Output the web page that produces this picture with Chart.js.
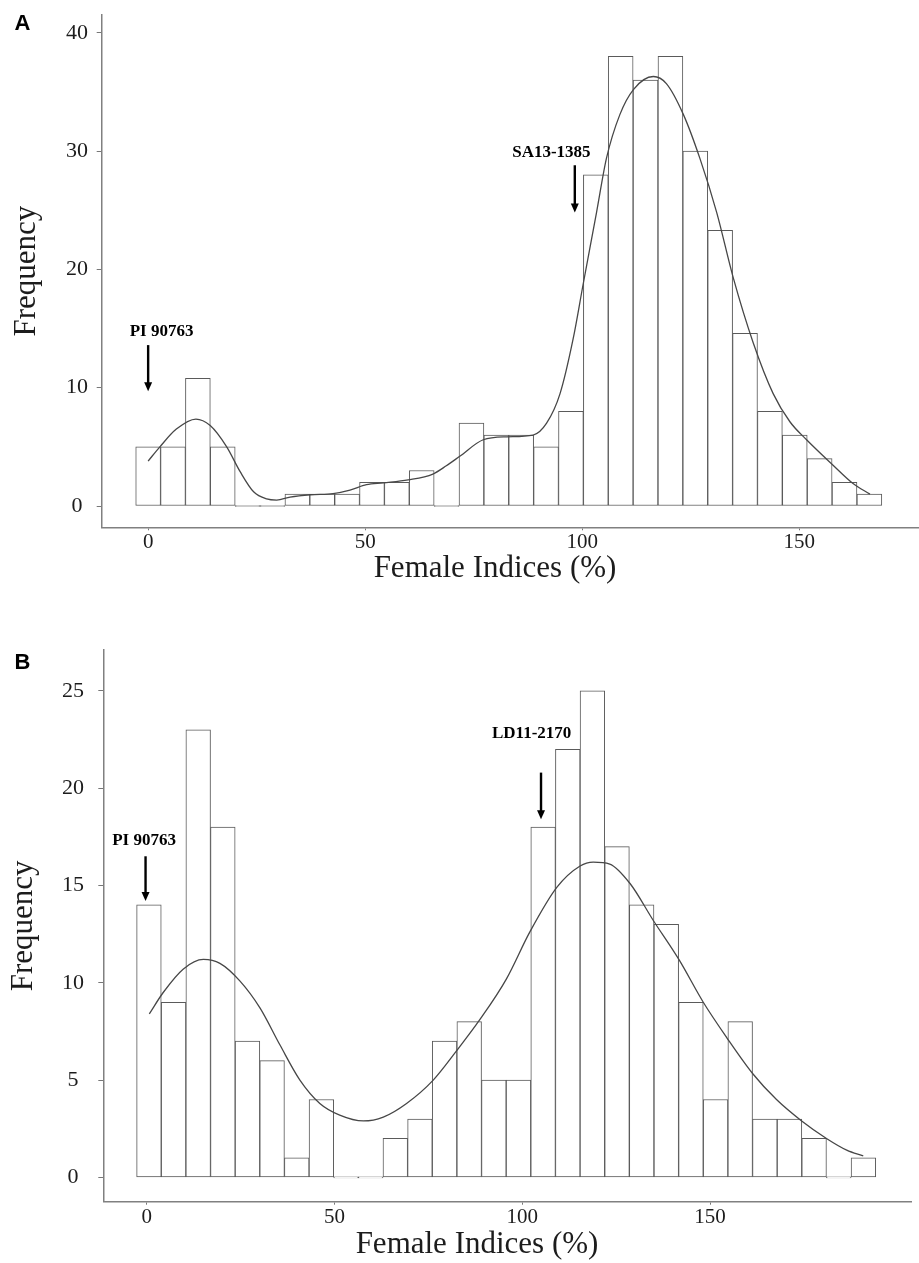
<!DOCTYPE html>
<html>
<head>
<meta charset="utf-8">
<script src="https://cdn.jsdelivr.net/npm/chart.js@4.4.0/dist/chart.umd.min.js"></script>
<style>
  html, body { margin: 0; padding: 0; background: #fff; overflow: hidden; }
  canvas { position: absolute; left: 0; }
  #chartA { top: 0; }
  #chartB { top: 630px; }
</style>
</head>
<body>
<canvas id="chartA" width="919" height="600"></canvas>
<canvas id="chartB" width="919" height="633"></canvas>
<script>
// ---- panel A ----
const binsA = [0, 5.73, 11.46, 17.19, 22.92, 28.65, 34.38, 40.11, 45.84, 51.57, 57.30, 63.03, 68.76, 74.49, 80.22,
               85.95, 91.68, 97.41, 103.14, 108.87, 114.60, 120.33, 126.06, 131.79, 137.52, 143.25, 148.98, 154.71, 160.44, 166.17];
const countsA = [5, 5, 10.8, 5, 0, 0, 1, 1, 1, 2, 2, 3, 0, 7, 6, 6, 5, 8, 28, 38, 36, 38, 30, 23.3, 14.6, 8, 6, 4, 2, 1];
const curveXA = [0, 2.7, 6.5, 11, 14.3, 18.1, 21.2, 24.3, 27.3, 29.6, 32.7, 37.4, 42.6, 46.5, 50.3, 54.2, 59.9, 65.6, 68.7,
                 71.8, 77.2, 82.6, 88.7, 91.8, 94.9, 97.9, 100.2, 103.3, 105.6, 108.7, 111.8, 116.4, 119.4, 123.3, 127.1,
                 131, 134.8, 139.4, 144, 147.9, 151.7, 157.8, 162.4, 166.3];
const curveYA = [3.8, 5.0, 6.5, 7.35, 6.8, 5.0, 2.9, 1.2, 0.6, 0.5, 0.75, 0.95, 1.05, 1.35, 1.8, 1.95, 2.2, 2.7, 3.4,
                 4.2, 5.6, 5.85, 6.0, 7.0, 9.5, 14.1, 18.7, 24.8, 29.4, 33.1, 35.2, 36.3, 35.7, 33.1, 29.4,
                 24.8, 19.3, 13.8, 9.5, 7.1, 5.6, 3.45, 1.9, 1.0];
const xTicksA = [0, 50, 100, 150];
const yTicksA = [0, 10, 20, 30, 40];
const markLabelsA = ['PI 90763', 'SA13-1385'];
const markLabelXA = [3.1, 92.9];
const markLabelYA = [14.7, 29.9];
const markXA = [0, 98.3];
const markTopA = [13.6, 28.8];
const markTipA = [9.7, 24.8];

// ---- panel B ----
const binsB = [0.60, 7.16, 13.72, 20.28, 26.84, 33.40, 39.96, 46.52, 53.08, 59.64, 66.20, 72.76, 79.32, 85.88, 92.44,
               99.00, 105.56, 112.12, 118.68, 125.24, 131.80, 138.36, 144.92, 151.48, 158.04, 164.60, 171.16, 177.72, 184.28, 190.84];
const countsB = [14, 9, 23, 18, 7, 6, 1, 4, 0, 0, 2, 3, 7, 8, 5, 5, 18, 22, 25, 17, 14, 13, 9, 4, 8, 3, 3, 2, 0, 1];
const curveXB = [0.7, 4.4, 9.7, 15.1, 19.5, 24.8, 30.2, 35.5, 40.8, 46.1, 51.4, 57.7, 63, 69.2, 76.3, 82.5, 88.7, 95.8,
                 102, 109.2, 115.4, 118.9, 123.3, 128.7, 134.9, 141.7, 148.2, 154.4, 161.5, 167.7, 174.4, 181, 186.4, 190.8];
const curveYB = [8.4, 9.5, 10.7, 11.2, 11.0, 10.1, 8.7, 6.8, 5.0, 3.8, 3.2, 2.9, 3.1, 3.8, 5.0, 6.5, 8.1, 10.2,
                 12.6, 14.9, 16.0, 16.2, 16.1, 15.1, 13.2, 11.2, 9.0, 7.2, 5.3, 4.0, 2.9, 2.0, 1.4, 1.1];
const xTicksB = [0, 50, 100, 150];
const yTicksB = [0, 5, 10, 15, 20, 25];
const markLabelsB = ['PI 90763', 'LD11-2170'];
const markLabelXB = [-0.7, 102.5];
const markLabelYB = [17.3, 22.8];
const markXB = [-0.3, 105];
const markTopB = [16.5, 20.8];
const markTipB = [14.2, 18.4];

const serif = '"Liberation Serif", "Times New Roman", serif';
const ink = '#1c1c1c';

// arrows with their labels, the panel letter and the x axis title
const marksPlugin = {
  id: 'marks',
  afterDatasetsDraw(chart, args, o) {
    const { ctx } = chart;
    const x = chart.scales.x, y = chart.scales.y;
    ctx.save();
    ctx.fillStyle = '#000';
    ctx.strokeStyle = '#000';
    ctx.textAlign = 'center';
    ctx.textBaseline = 'middle';
    ctx.font = 'bold 17px ' + serif;
    o.labels.forEach((t, i) => {
      ctx.fillText(t, x.getPixelForValue(o.labelX[i]), y.getPixelForValue(o.labelY[i]));
      const ax = x.getPixelForValue(o.arrowX[i]);
      const top = y.getPixelForValue(o.arrowTop[i]);
      const tip = y.getPixelForValue(o.arrowTip[i]);
      ctx.lineWidth = 2.4;
      ctx.beginPath();
      ctx.moveTo(ax, top);
      ctx.lineTo(ax, tip - 7);
      ctx.stroke();
      ctx.beginPath();
      ctx.moveTo(ax - 4, tip - 9);
      ctx.lineTo(ax + 4, tip - 9);
      ctx.lineTo(ax, tip);
      ctx.closePath();
      ctx.fill();
    });
    ctx.font = 'bold 22px "Liberation Sans", Arial, sans-serif';
    ctx.fillText(o.letter, 22.5, o.letterY);

    ctx.fillStyle = ink;
    ctx.font = '31px ' + serif;
    ctx.fillText('Female Indices (%)', o.titleX, chart.chartArea.bottom + o.titleGap);
    ctx.restore();
  }
};

function histogram(id, p) {
  return new Chart(document.getElementById(id), {
    type: 'bar',
    data: {
      datasets: [
        {
          type: 'line',
          data: p.curveX.map((v, i) => ({ x: v, y: p.curveY[i] })),
          borderColor: '#474747',
          borderWidth: 1.3,
          pointRadius: 0,
          fill: false,
          cubicInterpolationMode: 'monotone',
          order: 0,
        },
        {
          data: p.bins.map((v, i) => ({ x: v, y: p.counts[i] })),
          backgroundColor: '#ffffff',
          borderColor: '#5a5a5a',
          borderWidth: 1,
          borderSkipped: false,
          barPercentage: 1,
          categoryPercentage: 1,
          minBarLength: 1,
          order: 1,
        },
      ],
    },
    options: {
      responsive: false,
      animation: false,
      layout: { padding: p.padding },
      plugins: {
        legend: { display: false },
        tooltip: { enabled: false },
        marks: p.marks,
      },
      scales: {
        x: {
          type: 'linear',
          min: p.xMin,
          max: p.xMax,
          offset: false,
          afterBuildTicks: (s) => { s.ticks = p.xTicks.map((v) => ({ value: v })); },
          afterFit: (s) => { s.height = p.xAxisH; },
          grid: { drawOnChartArea: false, drawTicks: true, tickLength: 3, tickColor: '#777', offset: false },
          border: { display: true, color: '#808080', width: 1.5 },
          ticks: { font: { family: serif, size: 21 }, color: ink, padding: 0, maxRotation: 0 },
        },
        y: {
          min: p.yMin,
          max: p.yMax,
          afterBuildTicks: (s) => { s.ticks = p.yTicks.map((v) => ({ value: v })); },
          afterFit: (s) => { s.width = p.yAxisW; },
          grid: { drawOnChartArea: false, drawTicks: true, tickLength: 5, tickColor: '#777' },
          border: { display: true, color: '#808080', width: 1.5 },
          ticks: { font: { family: serif, size: 22, lineHeight: 0.5 }, color: ink, padding: p.yTickPad, crossAlign: 'center' },
          title: {
            display: true,
            text: 'Frequency',
            font: { family: serif, size: 31 },
            color: ink,
            padding: { top: p.yTitlePad, bottom: 0 },
          },
        },
      },
    },
    plugins: [marksPlugin],
  });
}

histogram('chartA', {
  bins: binsA, counts: countsA, curveX: curveXA, curveY: curveYA,
  xTicks: xTicksA, yTicks: yTicksA,
  xMin: -10.7, xMax: 177.6, yMin: -1.8, yMax: 41.5,
  padding: { top: 15, right: 0, bottom: 0, left: 0 },
  xAxisH: 72.7, yAxisW: 101.7, yTitlePad: 8, yTickPad: 8.7,
  marks: {
    labels: markLabelsA, labelX: markLabelXA, labelY: markLabelYA,
    arrowX: markXA, arrowTop: markTopA, arrowTip: markTipA,
    letter: 'A', letterY: 23.5, titleX: 495, titleGap: 41.7,
  },
});

histogram('chartB', {
  bins: binsB, counts: countsB, curveX: curveXB, curveY: curveYB,
  xTicks: xTicksB, yTicks: yTicksB,
  xMin: -11.55, xMax: 203.7, yMin: -1.25, yMax: 27.1,
  padding: { top: 20, right: 7.3, bottom: 0, left: 0 },
  xAxisH: 61.3, yAxisW: 103.3, yTitlePad: 5.4, yTickPad: 14.3,
  marks: {
    labels: markLabelsB, labelX: markLabelXB, labelY: markLabelYB,
    arrowX: markXB, arrowTop: markTopB, arrowTip: markTipB,
    letter: 'B', letterY: 33, titleX: 477, titleGap: 43.3,
  },
});
</script>
</body>
</html>
